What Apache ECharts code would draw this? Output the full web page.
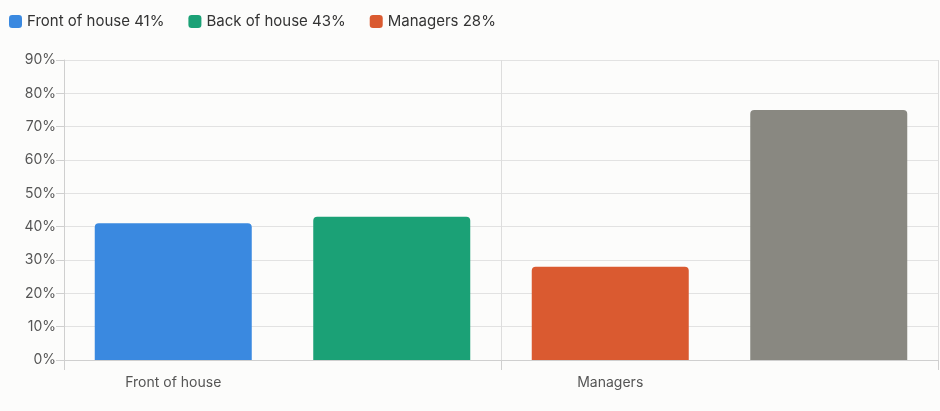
<!DOCTYPE html>
<html>
<head>
<meta charset="utf-8">
<script src="https://cdn.jsdelivr.net/npm/echarts@6/dist/echarts.min.js"></script>
<style>
  html, body { margin: 0; padding: 0; background: #fcfcfb; }
  #chart { width: 940px; height: 411px; }
</style>
</head>
<body>
<div id="chart"></div>
<script>
const categories = ["Front of house", "Back of house", "Managers", "Industry average (all roles)"];
const seriesNames = ["Front of house 41%", "Back of house 43%", "Managers 28%", "Industry average"];
const values = [41, 43, 28, 75];
const colors = ["#3a89e0", "#1ba176", "#da5a30", "#898881"];
const yTicks = [0, 10, 20, 30, 40, 50, 60, 70, 80, 90];

const chart = echarts.init(document.getElementById("chart"));

const series = values.map((v, i) => ({
  name: seriesNames[i],
  type: "bar",
  stack: "all",
  barWidth: 157,
  data: categories.map((c, j) => (j === i ? v : null)),
  itemStyle: { color: colors[i], borderRadius: [4, 4, 0, 0] },
}));

chart.setOption({
  backgroundColor: "#fcfcfb",
  textStyle: { fontFamily: "Inter, 'Noto Sans', sans-serif" },
  legend: {
    data: seriesNames.slice(0, 3),
    left: 4,
    top: 9,
    itemWidth: 13,
    itemHeight: 13,
    itemGap: 24,
    icon: "roundRect",
    textStyle: { fontSize: 15, color: "#333" },
  },
  grid: { left: 64, right: 2, top: 60, bottom: 51 },
  xAxis: {
    type: "category",
    data: categories,
    axisLine: { lineStyle: { color: "#cfcfcf" } },
    axisTick: { show: true, length: 10, lineStyle: { color: "#cfcfcf" } },
    splitLine: { show: true, lineStyle: { color: "#dddddd" } },
    axisLabel: { fontSize: 14, color: "#555", margin: 16 },
  },
  yAxis: {
    type: "value",
    min: 0,
    max: 90,
    interval: 10,
    axisLine: { show: true, lineStyle: { color: "#cfcfcf" } },
    axisTick: { show: true, length: 8, lineStyle: { color: "#cfcfcf" } },
    splitLine: { lineStyle: { color: "#e2e2e2" } },
    axisLabel: { fontSize: 14, color: "#555", formatter: (v) => yTicks.includes(v) ? v + "%" : "" },
  },
  series: series,
});
</script>
</body>
</html>
